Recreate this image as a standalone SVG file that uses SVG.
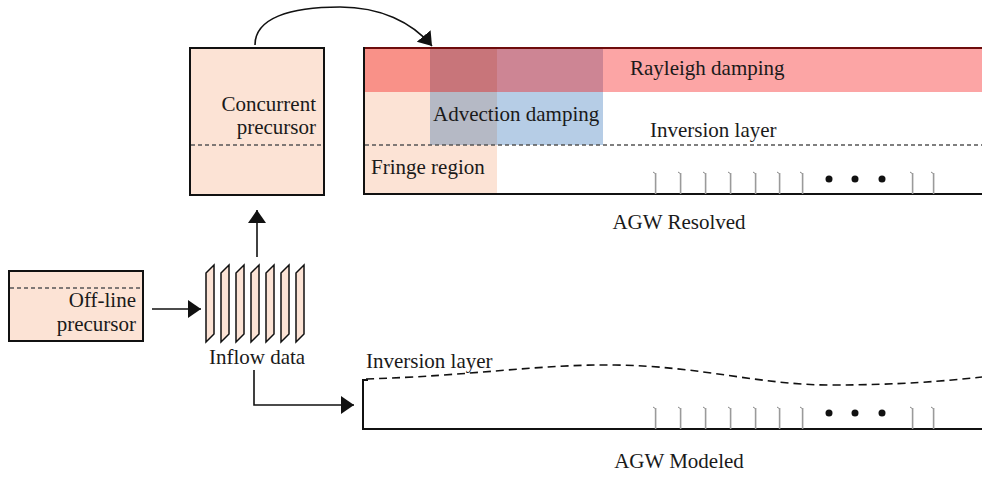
<svg xmlns="http://www.w3.org/2000/svg" xmlns:xlink="http://www.w3.org/1999/xlink" width="982" height="477" viewBox="0 0 982 477">
  <style>
    text { font-family: "Liberation Serif", "Times New Roman", serif; font-size: 21px; fill: #1a1a1a; }
    .box { fill: #FCE3D5; stroke: #111; stroke-width: 2; }
    .edge { fill: none; stroke: #111; stroke-width: 1.6; }
    .dash { fill: none; stroke: #555; stroke-width: 1.3; stroke-dasharray: 4 3; }
    .wave { fill: none; stroke: #111; stroke-width: 1.6; stroke-dasharray: 8 5; }
    .ground { fill: none; stroke: #111; stroke-width: 2; }
    .slab { fill: #FCE3D5; stroke: #111; stroke-width: 1.5; stroke-linejoin: miter; }
    .dot { fill: #111; }
  </style>
  <defs>
    <marker id="arrow" markerUnits="userSpaceOnUse" markerWidth="14" markerHeight="20" refX="13" refY="9" orient="auto">
      <path d="M0,0 L13,9 L0,18 z" fill="#111"/>
    </marker>
    <linearGradient id="bladeGrad" x1="0" y1="0" x2="0" y2="1">
      <stop offset="0" stop-color="#ffffff"/>
      <stop offset="1" stop-color="#9a9a9a"/>
    </linearGradient>
    <g id="turbine">
      <path d="M-0.5,-34 L-0.5,-14" stroke="url(#bladeGrad)" stroke-width="1.2" fill="none"/>
      <path d="M-2,-22 L1,-20" stroke="#888" stroke-width="1" fill="none"/>
      <path d="M0.6,-21 L0.6,0" stroke="#9a9a9a" stroke-width="1.6" fill="none"/>
    </g>
  </defs>

  <!-- concurrent precursor -->
  <g id="concurrent-precursor">
    <rect class="box" x="190" y="48" width="134" height="147"/>
    <line class="dash" x1="191" y1="145" x2="323" y2="145"/>
    <text x="316" y="111" text-anchor="end">Concurrent</text>
    <text x="316" y="134" text-anchor="end">precursor</text>
  </g>

  <!-- off-line precursor -->
  <g id="offline-precursor">
    <rect class="box" x="9" y="271" width="134" height="70"/>
    <line class="dash" x1="10" y1="288" x2="142" y2="288"/>
    <text x="136" y="307" text-anchor="end">Off-line</text>
    <text x="136" y="331" text-anchor="end">precursor</text>
  </g>

  <!-- inflow data planes -->
  <g id="inflow-data">
    <path class="slab" d="M206,273 L214,265 L214,334 L206,342 z"/>
    <path class="slab" d="M221,273 L229,265 L229,334 L221,342 z"/>
    <path class="slab" d="M236,273 L244,265 L244,334 L236,342 z"/>
    <path class="slab" d="M251,273 L259,265 L259,334 L251,342 z"/>
    <path class="slab" d="M266,273 L274,265 L274,334 L266,342 z"/>
    <path class="slab" d="M281,273 L289,265 L289,334 L281,342 z"/>
    <path class="slab" d="M296,273 L304,265 L304,334 L296,342 z"/>
    <text x="257" y="364" text-anchor="middle">Inflow data</text>
  </g>

  <!-- resolved domain -->
  <g id="agw-resolved">
    <rect x="364" y="48" width="618" height="146" fill="#ffffff"/>
    <!-- fringe region -->
    <rect x="364" y="92" width="66" height="53" fill="#FCE3D5"/>
    <rect x="364" y="145" width="133" height="49" fill="#FCE3D5"/>
    <!-- advection damping -->
    <rect x="430" y="92" width="67" height="53" fill="#B5B9C5"/>
    <rect x="497" y="92" width="106" height="53" fill="#B6CDE6"/>
    <!-- rayleigh damping -->
    <rect x="364" y="48" width="66" height="44" fill="#F99188"/>
    <rect x="430" y="48" width="67" height="44" fill="#C8757A"/>
    <rect x="497" y="48" width="106" height="44" fill="#CD8594"/>
    <rect x="603" y="48" width="379" height="44" fill="#FCA5A5"/>
    <line class="dash" x1="365" y1="145" x2="982" y2="145"/>
    <line x1="364" y1="48" x2="982" y2="48" stroke="#6e0c0c" stroke-width="2"/>
    <path class="ground" d="M364,47 L364,194 L982,194"/>
    <text x="630" y="75">Rayleigh damping</text>
    <text x="433" y="121">Advection damping</text>
    <text x="650" y="137">Inversion layer</text>
    <text x="371" y="174">Fringe region</text>
    <use xlink:href="#turbine" x="655" y="194"/>
    <use xlink:href="#turbine" x="680" y="194"/>
    <use xlink:href="#turbine" x="705" y="194"/>
    <use xlink:href="#turbine" x="730" y="194"/>
    <use xlink:href="#turbine" x="755" y="194"/>
    <use xlink:href="#turbine" x="779" y="194"/>
    <use xlink:href="#turbine" x="802" y="194"/>
    <circle class="dot" cx="829" cy="179" r="3.5"/>
    <circle class="dot" cx="855" cy="179" r="3.5"/>
    <circle class="dot" cx="882" cy="179" r="3.5"/>
    <use xlink:href="#turbine" x="912" y="194"/>
    <use xlink:href="#turbine" x="933" y="194"/>
    <text x="679" y="229" text-anchor="middle">AGW Resolved</text>
  </g>

  <!-- modeled domain -->
  <g id="agw-modeled">
    <path class="wave" d="M366,379 C470,376 540,364 615,365 C700,366 760,385 830,385 C900,385 945,381 982,377"/>
    <path class="ground" d="M368,380 L363,380 L363,429 L982,429"/>
    <text x="366" y="368">Inversion layer</text>
    <use xlink:href="#turbine" x="655" y="429"/>
    <use xlink:href="#turbine" x="680" y="429"/>
    <use xlink:href="#turbine" x="705" y="429"/>
    <use xlink:href="#turbine" x="730" y="429"/>
    <use xlink:href="#turbine" x="755" y="429"/>
    <use xlink:href="#turbine" x="779" y="429"/>
    <use xlink:href="#turbine" x="802" y="429"/>
    <circle class="dot" cx="829" cy="413" r="3.5"/>
    <circle class="dot" cx="855" cy="413" r="3.5"/>
    <circle class="dot" cx="882" cy="413" r="3.5"/>
    <use xlink:href="#turbine" x="912" y="429"/>
    <use xlink:href="#turbine" x="933" y="429"/>
    <text x="679" y="468" text-anchor="middle">AGW Modeled</text>
  </g>

  <!-- connectors -->
  <g id="connectors">
    <path class="edge" d="M255,45 C255,18 290,7 340,7 C380,7 412,22 432,46" marker-end="url(#arrow)"/>
    <path class="edge" d="M257,257 L257,210" marker-end="url(#arrow)"/>
    <path class="edge" d="M152,309 L201,309" marker-end="url(#arrow)"/>
    <path class="edge" d="M254,370 L254,405 L354,405" marker-end="url(#arrow)"/>
  </g>
</svg>
